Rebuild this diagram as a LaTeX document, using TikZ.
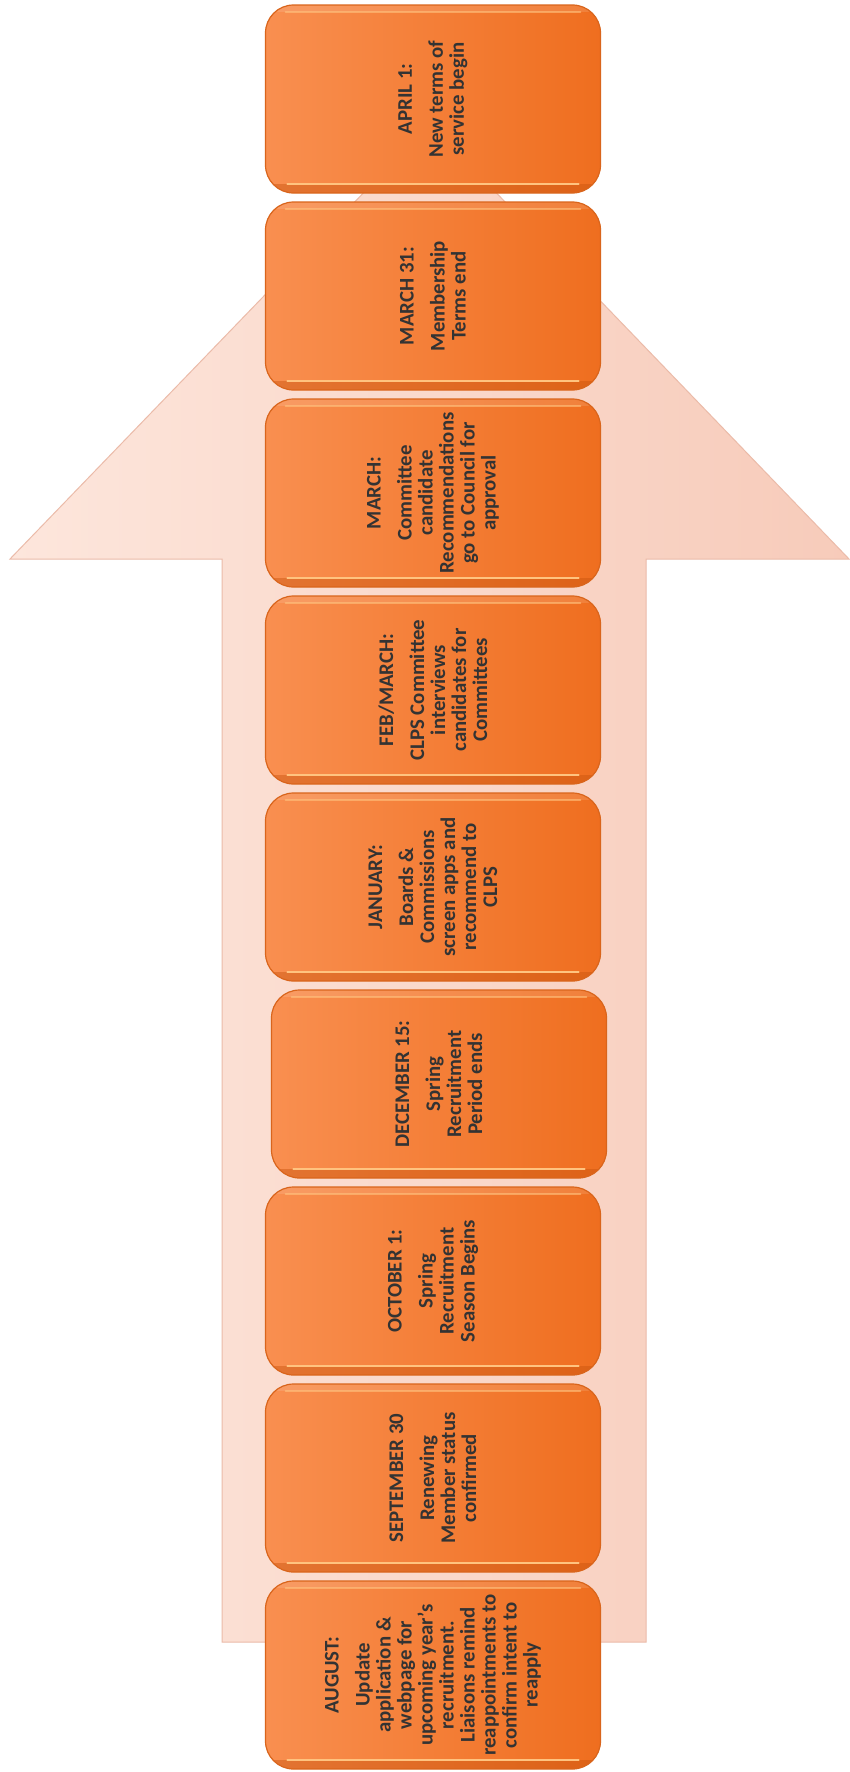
\documentclass[tikz,border=0pt]{standalone}
\usepackage{fontspec}
\setmainfont{Carlito}
\definecolor{arrL}{HTML}{FDE6DC}
\definecolor{arrR}{HTML}{F7CBBA}
\definecolor{arrEdge}{HTML}{EBBBA9}
\definecolor{boxL}{HTML}{F98F50}
\definecolor{boxR}{HTML}{EF6E1F}
\definecolor{boxEdge}{HTML}{D9651C}
\definecolor{boxDark}{HTML}{C9540E}
\definecolor{boxHi}{HTML}{FFC37F}
\definecolor{txt}{HTML}{333333}
\tikzset{
  stepbox/.style={rounded corners=14pt, minimum width=167.5pt, minimum height=94pt,
    inner sep=0pt, left color=boxL, right color=boxR, draw=boxEdge, line width=0.6pt,
    path picture={
      \fill[boxDark, opacity=0.45, sharp corners] ([yshift=4.5pt]path picture bounding box.south west) rectangle (path picture bounding box.south east);
      \draw[boxHi, line width=1.1pt, line cap=round] ([shift={(11pt,4.5pt)}]path picture bounding box.south west) -- ([shift={(-11pt,4.5pt)}]path picture bounding box.south east);
      \fill[white, opacity=0.12, sharp corners] ([yshift=-3.5pt]path picture bounding box.north west) rectangle (path picture bounding box.north east);
      \draw[boxHi, opacity=0.6, line width=0.9pt, line cap=round] ([shift={(10pt,-3.5pt)}]path picture bounding box.north west) -- ([shift={(-10pt,-3.5pt)}]path picture bounding box.north east);
    }},
  steptext/.style={rotate=90, align=center, text=txt, inner sep=0pt,
    font=\fontsize{10.4}{10.5}\selectfont\bfseries},
  bigarrow/.style={left color=arrL, right color=arrR, draw=arrEdge, line width=0.5pt}
}
\newcommand{\tlbox}[4]{%
  \node[stepbox] (#1) at (433+#3,#2+94) {};
  \node[steptext] (#1t) at (#1.center) {#4};
}
\begin{document}
\begin{tikzpicture}[x=0.5pt,y=-0.5pt]
\useasboundingbox (0,0) rectangle (850,1772);
\fill[white] (0,0) rectangle (850,1772);
% big arrow
\coordinate (sbl) at (222,1642);
\coordinate (stl) at (222,559);
\coordinate (hl) at (10,559);
\coordinate (tip) at (430,124);
\coordinate (hr) at (849,559);
\coordinate (str) at (646,559);
\coordinate (sbr) at (646,1642);
\path[bigarrow] (sbl) -- (stl) -- (hl) -- (tip) -- (hr) -- (str) -- (sbr) -- cycle;
% boxes
\tlbox{b1}{5}{0}{APRIL 1:\\[5pt]New terms of\\service begin}
\tlbox{b2}{202}{0}{MARCH 31:\\[5pt]Membership\\Terms end}
\tlbox{b3}{399}{0}{MARCH:\\[5pt]Committee\\candidate\\Recommendations\\go to Council for\\approval}
\tlbox{b4}{596}{0}{FEB/MARCH:\\[5pt]CLPS Committee\\interviews\\candidates for\\Committees}
\tlbox{b5}{793}{0}{JANUARY:\\[5pt]Boards \&\\Commissions\\screen apps and\\recommend to\\CLPS}
\tlbox{b6}{990}{6}{DECEMBER 15:\\[5pt]Spring\\Recruitment\\Period ends}
\tlbox{b7}{1187}{0}{OCTOBER 1:\\[5pt]Spring\\Recruitment\\Season Begins}
\tlbox{b8}{1384}{0}{SEPTEMBER 30\\[5pt]Renewing\\Member status\\confirmed}
\tlbox{b9}{1581}{0}{AUGUST:\\[5pt]Update\\application \&\\webpage for\\upcoming year’s\\recruitment.\\Liaisons remind\\reappointments to\\confirm intent to\\reapply}
\end{tikzpicture}
\end{document}
